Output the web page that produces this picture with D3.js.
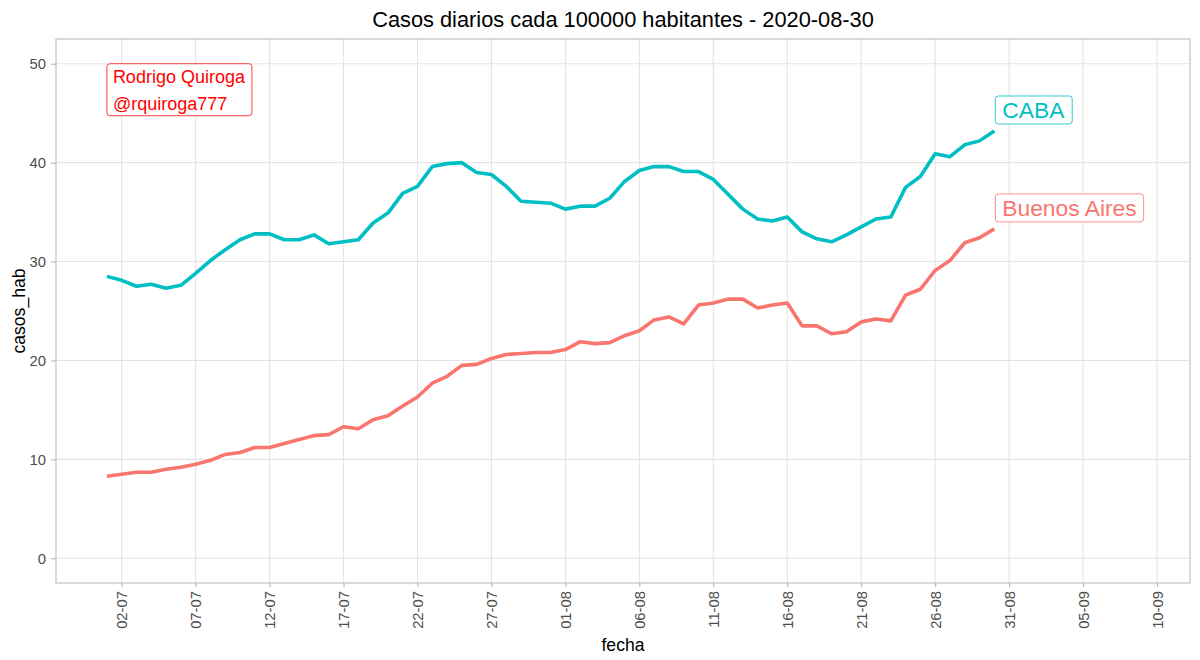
<!DOCTYPE html>
<html>
<head>
<meta charset="utf-8">
<script src="https://cdn.jsdelivr.net/npm/d3@7"></script>
<style>
body { margin: 0; background: #fff; }
text { font-family: "Liberation Sans", Arial, sans-serif; }
</style>
</head>
<body>
<script>
// daily cases per 100k, 01-07 .. 30-08
var fechas = ["2020-07-01","2020-07-02","2020-07-03","2020-07-04","2020-07-05","2020-07-06","2020-07-07","2020-07-08","2020-07-09","2020-07-10",
              "2020-07-11","2020-07-12","2020-07-13","2020-07-14","2020-07-15","2020-07-16","2020-07-17","2020-07-18","2020-07-19","2020-07-20",
              "2020-07-21","2020-07-22","2020-07-23","2020-07-24","2020-07-25","2020-07-26","2020-07-27","2020-07-28","2020-07-29","2020-07-30",
              "2020-07-31","2020-08-01","2020-08-02","2020-08-03","2020-08-04","2020-08-05","2020-08-06","2020-08-07","2020-08-08","2020-08-09",
              "2020-08-10","2020-08-11","2020-08-12","2020-08-13","2020-08-14","2020-08-15","2020-08-16","2020-08-17","2020-08-18","2020-08-19",
              "2020-08-20","2020-08-21","2020-08-22","2020-08-23","2020-08-24","2020-08-25","2020-08-26","2020-08-27","2020-08-28","2020-08-29",
              "2020-08-30"];

var caba = [28.5, 28.1, 27.5, 27.7, 27.3, 27.6, 28.8, 30.1, 31.2, 32.2,
            32.8, 32.8, 32.2, 32.2, 32.7, 31.8, 32.0, 32.2, 33.9, 34.9,
            36.9, 37.6, 39.6, 39.9, 40.0, 39.0, 38.8, 37.6, 36.1, 36.0,
            35.9, 35.3, 35.6, 35.6, 36.4, 38.1, 39.2, 39.6, 39.6, 39.1,
            39.1, 38.3, 36.8, 35.3, 34.3, 34.1, 34.5, 33.0, 32.3, 32.0,
            32.7, 33.5, 34.3, 34.5, 37.5, 38.6, 40.9, 40.6, 41.8, 42.2,
            43.2];

var bsas = [8.3, 8.5, 8.7, 8.7, 9.0, 9.2, 9.5, 9.9, 10.5, 10.7,
            11.2, 11.2, 11.6, 12.0, 12.4, 12.5, 13.3, 13.1, 14.0, 14.4,
            15.4, 16.3, 17.7, 18.4, 19.5, 19.6, 20.2, 20.6, 20.7, 20.8,
            20.8, 21.1, 21.9, 21.7, 21.8, 22.5, 23.0, 24.1, 24.4, 23.7,
            25.6, 25.8, 26.2, 26.2, 25.3, 25.6, 25.8, 23.5, 23.5, 22.7,
            22.9, 23.9, 24.2, 24.0, 26.6, 27.2, 29.1, 30.1, 31.9, 32.4,
            33.3];

var provincias = ["CABA", "Buenos Aires"];
var colores = ["#00BFC4", "#F8766D"];

var xTicks = ["2020-07-02","2020-07-07","2020-07-12","2020-07-17","2020-07-22","2020-07-27","2020-08-01","2020-08-06",
              "2020-08-11","2020-08-16","2020-08-21","2020-08-26","2020-08-31","2020-09-05","2020-09-10"];
var yTicks = [0, 10, 20, 30, 40, 50];

var titulo = "Casos diarios cada 100000 habitantes - 2020-08-30";
var firma = ["Rodrigo Quiroga", "@rquiroga777"];

var width = 1200;
var height = 660;
var panel = {left: 56, right: 1190, top: 39, bottom: 583};
var dia = 864e5;

var parse = d3.utcParse("%Y-%m-%d");
var fechasD = fechas.map(parse);
var ticksD = xTicks.map(parse);

var svg = d3.select("body").append("svg")
            .attr("width", width)
            .attr("height", height);

var x = d3.scaleUtc()
          .domain([new Date(+fechasD[0] - 3.44 * dia), new Date(+ticksD[ticksD.length - 1] + 2.23 * dia)])
          .range([panel.left, panel.right]);

var y = d3.scaleLinear()
          .domain([-2.5, 52.5])
          .range([panel.bottom, panel.top]);

// grid
svg.append("g").selectAll("line")
    .data(yTicks)
    .enter().append("line")
    .attr("x1", panel.left).attr("x2", panel.right)
    .attr("y1", function(d) { return y(d); })
    .attr("y2", function(d) { return y(d); })
    .attr("stroke", "#e4e4e4").attr("stroke-width", 1.1);

svg.append("g").selectAll("line")
    .data(ticksD)
    .enter().append("line")
    .attr("y1", panel.top).attr("y2", panel.bottom)
    .attr("x1", function(d) { return x(d); })
    .attr("x2", function(d) { return x(d); })
    .attr("stroke", "#e4e4e4").attr("stroke-width", 1.1);

// lines
var line = d3.line()
             .x(function(d) { return x(d.fecha); })
             .y(function(d) { return y(d.v); });

var datos = [caba, bsas].map(function(vals) {
    return vals.map(function(v, i) { return {fecha: fechasD[i], v: v}; });
});

svg.append("g").selectAll("path")
    .data(datos)
    .enter().append("path")
    .attr("d", line)
    .attr("fill", "none")
    .attr("stroke", function(d, i) { return colores[i]; })
    .attr("stroke-width", 3.6)
    .attr("stroke-linejoin", "round");

// panel border
svg.append("rect")
    .attr("x", panel.left).attr("y", panel.top)
    .attr("width", panel.right - panel.left)
    .attr("height", panel.bottom - panel.top)
    .attr("fill", "none")
    .attr("stroke", "#c6c6c6").attr("stroke-width", 1.3);

// axes
var yAxis = svg.append("g")
    .attr("transform", "translate(" + panel.left + ",0)")
    .call(d3.axisLeft(y).tickValues(yTicks).tickSize(5).tickPadding(5));

var xAxis = svg.append("g")
    .attr("transform", "translate(0," + panel.bottom + ")")
    .call(d3.axisBottom(x).tickValues(ticksD).tickFormat(d3.utcFormat("%d-%m")).tickSize(4));

[yAxis, xAxis].forEach(function(a) {
    a.select(".domain").remove();
    a.selectAll(".tick line").attr("stroke", "#b3b3b3").attr("stroke-width", 1.1);
    a.selectAll(".tick text")
        .attr("fill", "#4d4d4d")
        .style("font-size", "14.8px")
        .style("font-family", "'Liberation Sans', Arial, sans-serif");
});

xAxis.selectAll(".tick text")
    .attr("x", -8)
    .attr("y", 0)
    .attr("dy", "0.35em")
    .attr("transform", "rotate(-90)")
    .style("text-anchor", "end");

// titles
svg.append("text")
    .attr("x", (panel.left + panel.right) / 2)
    .attr("y", 27)
    .attr("text-anchor", "middle")
    .style("font-size", "21.8px")
    .attr("fill", "#000")
    .text(titulo);

svg.append("text")
    .attr("x", (panel.left + panel.right) / 2)
    .attr("y", 651)
    .attr("text-anchor", "middle")
    .style("font-size", "17.6px")
    .text("fecha");

svg.append("text")
    .attr("transform", "translate(25," + (panel.top + panel.bottom) / 2 + ") rotate(-90)")
    .attr("text-anchor", "middle")
    .style("font-size", "17.6px")
    .text("casos_hab");

// signature label
var fx = x(fechasD[0]), fy = y(50);
var firmaG = svg.append("g");
var firmaBox = firmaG.append("rect");
firmaG.selectAll("text")
    .data(firma)
    .enter().append("text")
    .attr("x", fx + 6)
    .attr("y", function(d, i) { return fy + 19 + i * 27; })
    .attr("fill", "#ff0000")
    .style("font-size", "18px")
    .text(function(d) { return d; });
var fw = firmaG.node().getBBox().width;
firmaBox.attr("x", fx).attr("y", fy)
    .attr("width", fw + 12).attr("height", 52)
    .attr("rx", 3)
    .attr("fill", "#fff")
    .attr("stroke", "#ff0000").attr("stroke-opacity", 0.75).attr("stroke-width", 1);

// end labels
var ultimo = fechasD.length - 1;
[caba, bsas].forEach(function(vals, i) {
    var lx = x(fechasD[ultimo]) + 1;
    var cy = y(vals[ultimo]) - 21;
    var g = svg.append("g");
    var box = g.append("rect");
    var t = g.append("text")
        .attr("x", lx + 7)
        .attr("y", cy + 8)
        .attr("fill", colores[i])
        .style("font-size", "22.8px")
        .text(provincias[i]);
    var w = t.node().getBBox().width;
    box.attr("x", lx).attr("y", cy - 14)
        .attr("width", w + 14).attr("height", 28)
        .attr("rx", 3)
        .attr("fill", "#fff")
        .attr("stroke", colores[i]).attr("stroke-opacity", 0.8).attr("stroke-width", 1);
});
</script>
</body>
</html>
